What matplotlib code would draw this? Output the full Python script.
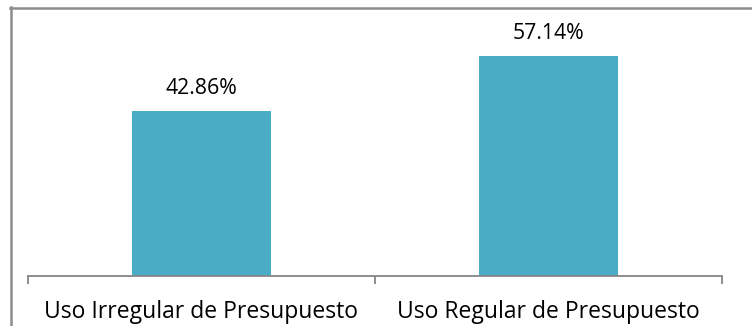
import matplotlib
matplotlib.use("Agg")
import matplotlib.pyplot as plt
from matplotlib.lines import Line2D
from matplotlib.transforms import blended_transform_factory

categories = ["Uso Irregular de Presupuesto", "Uso Regular de Presupuesto"]
values = [42.86, 57.14]
value_labels = ["42.86%", "57.14%"]

W, H = 752, 326
fig = plt.figure(figsize=(W / 100, H / 100), dpi=100)
plt.rcParams["font.family"] = ["Open Sans", "DejaVu Sans"]

# axes box in pixel terms
x0, x1 = 28, 722
y_base, y_top = 276, 45
ax = fig.add_axes([x0 / W, 1 - y_base / H, (x1 - x0) / W, (y_base - y_top) / H])

bar_color = "#4BACC6"
ax.bar(range(len(values)), values, width=0.4, color=bar_color, zorder=2)
ax.set_xlim(-0.5, len(values) - 0.5)
ax.set_ylim(0, 60)

# value labels, baseline a fixed distance above each bar
for i, (v, lab) in enumerate(zip(values, value_labels)):
    ax.annotate(lab, (i, v), xytext=(0, 12.2), textcoords="offset points",
                ha="center", va="baseline", fontsize=15.3, color="#000000")

for s in ["top", "right", "left"]:
    ax.spines[s].set_visible(False)
ax.spines["bottom"].set_color("#868686")
ax.spines["bottom"].set_linewidth(1.3)
ax.set_yticks([])
ax.set_xticks([-0.5, 0.5, 1.5])
ax.set_xticklabels([])
ax.tick_params(axis="x", length=6, width=1.3, color="#868686", direction="out")

# category labels below the axis
trans = blended_transform_factory(ax.transData, fig.transFigure)
for i, cat in enumerate(categories):
    ax.text(i, 1 - 318 / H, cat, transform=trans, ha="center", va="baseline",
            fontsize=16.5, color="#000000", clip_on=False)

# outer chart frame (left and top edges)
gray = "#8C8C8C"
fig.add_artist(Line2D([10.5 / W, 10.5 / W], [1 - 7 / H, 0], transform=fig.transFigure,
                      color=gray, lw=1.8))
fig.add_artist(Line2D([10 / W, 1], [1 - 7.5 / H, 1 - 7.5 / H], transform=fig.transFigure,
                      color=gray, lw=1.8))

fig.savefig("out.png", dpi=100)
